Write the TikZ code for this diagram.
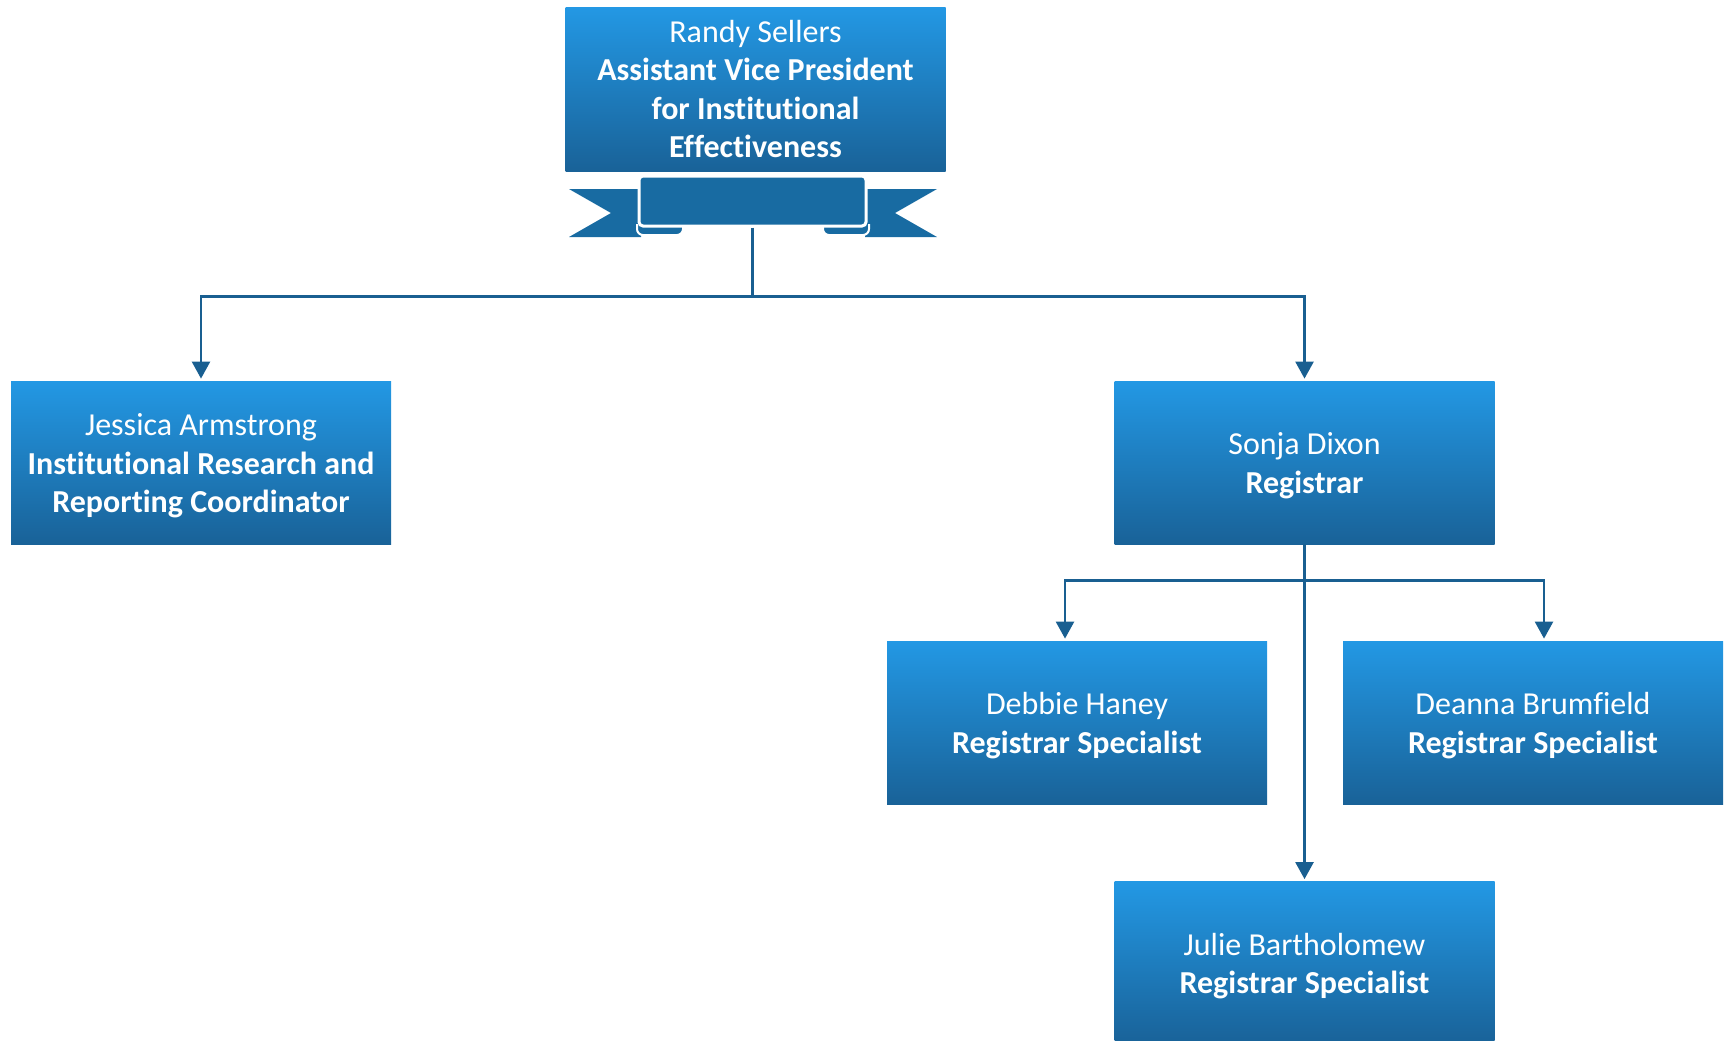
\documentclass[tikz,border=0pt]{standalone}
\usepackage{fontspec}
\setmainfont{Carlito}[Ligatures={NoCommon}]
\usetikzlibrary{arrows.meta}

\definecolor{boxtop}{RGB}{35,152,228}
\definecolor{boxbot}{RGB}{25,98,152}
\definecolor{ribbon}{RGB}{24,107,162}
\definecolor{linkblue}{RGB}{25,95,145}

\newcommand\lift{\rule{0pt}{14.2pt}}

\tikzset{
  person/.style={rectangle, minimum width=190pt, minimum height=81.5pt, inner sep=0pt,
    top color=boxtop, bottom color=boxbot, text=white, align=center,
    font=\fontsize{16}{19.25}\selectfont},
  banner/.style={rectangle, minimum width=113.5pt, minimum height=25pt, inner sep=0pt,
    fill=ribbon, draw=white, line width=1.5pt, rounded corners=2pt},
  link/.style={draw=linkblue, line width=1.25pt},
  arr/.style={link, -{Triangle[width=9pt,length=8.5pt]}, shorten >=1pt}
}

\begin{document}
\begin{tikzpicture}[x=0.5pt, y=-0.5pt]
	\clip (0,0) rectangle (1727,1040);
	% boxes
	\node[person, minimum height=82pt] (randy) at (755.5,89) {Randy Sellers\\\textbf{Assistant Vice President}\\\textbf{for Institutional}\\\textbf{Effectiveness}};
	\node[person] (jessica) at (201,462.5) {\lift Jessica Armstrong\\\textbf{Institutional Research and}\\\textbf{Reporting Coordinator}};
	\node[person] (sonja) at (1304.5,462.5) {\lift Sonja Dixon\\\textbf{Registrar}};
	\node[person] (debbie) at (1077,722.5) {\lift Debbie Haney\\\textbf{Registrar Specialist}};
	\node[person] (deanna) at (1533,722.5) {\lift Deanna Brumfield\\\textbf{Registrar Specialist}};
	\node[person] (julie) at (1304.5,963) {\lift Julie Bartholomew\\\textbf{Registrar Specialist}};
	% ribbon
	\fill[ribbon] (569,189) -- (641,189) -- (641,237) -- (569,237) -- (611,213) -- cycle;
	\fill[ribbon] (937,189) -- (865,189) -- (865,237) -- (937,237) -- (895,213) -- cycle;
	\filldraw[fill=ribbon, draw=white, line width=1pt, rounded corners=3pt] (683,227) -- (683,235) -- (637,235) -- (637,224);
	\filldraw[fill=ribbon, draw=white, line width=1pt, rounded corners=3pt] (823,227) -- (823,235) -- (869,235) -- (869,224);
	\node[banner] (band) at (752.5,201) {};
	% connectors
	\path (band.south) ++(0,69) coordinate (split);
	\draw[link] (band.south) -- (split);
	\draw[arr] (split) -| (jessica.north);
	\draw[arr] (split) -| (sonja.north);
	\path (sonja.south) ++(0,36) coordinate (fork);
	\draw[link] (sonja.south) -- (fork);
	\draw[arr] (fork) -| ([xshift=-6pt]debbie.north);
	\draw[arr] (fork) -| ([xshift=5.5pt]deanna.north);
	\draw[arr] (sonja.south) -- (julie.north);
\end{tikzpicture}
\end{document}
